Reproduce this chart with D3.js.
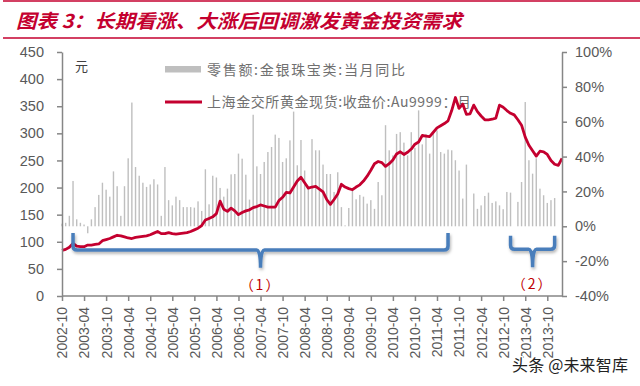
<!DOCTYPE html>
<html>
<head>
    <meta charset="utf-8">
    <title>长期看涨、大涨后回调激发黄金投资需求</title>
    <style type="text/css">
        body { margin: 0; background: #fff; }
        svg text { font-family: "Liberation Sans", Arial, sans-serif; fill: #595959; }
        svg .cjk { font-family: "Noto Sans CJK SC", sans-serif; }
        .axis path, .axis line { stroke: #868686; stroke-width: 1.5; }
    </style>
</head>
<body>
<script src="https://d3js.org/d3.v7.min.js"></script>
<script type="text/javascript">

    // monthly categories 2002-10 .. 2014-02
    var months = d3.timeMonth.range(new Date(2002, 9, 1), new Date(2014, 2, 1))
        .map(d3.timeFormat('%Y-%m'));

    // 上海金交所黄金现货 收盘价 Au9999 (元/克)
    var goldPrice = [
        84, 86, 90, 97, 92, 91, 91, 94, 94, 95,
        96, 102, 104, 106, 109, 112, 111, 109, 107, 106,
        108, 109, 110, 111, 113, 116, 119, 115, 115, 117,
        115, 114, 115, 116, 117, 119, 122, 125, 130, 140,
        143, 146, 152, 175, 160, 156, 162, 157, 150, 154,
        157, 159, 163, 165, 168, 166, 164, 164, 164, 176,
        182, 191, 190, 201, 212, 219, 209, 199, 201, 202,
        197, 192, 178, 169, 178, 188, 206, 201, 198, 196,
        201, 205, 212, 221, 232, 244, 248, 246, 239, 244,
        251, 262, 266, 261, 265, 271, 280, 284, 296, 295,
        294, 302, 310, 314, 318, 323, 342, 366, 346, 354,
        335, 336, 352, 340, 332, 325, 325, 326, 328, 352,
        348, 342, 337, 334, 325, 315, 293, 278, 268, 258,
        267, 266, 261, 250, 243, 241, 254
    ];

    // 零售额:金银珠宝类:当月同比 (%)
    var retailYoY = [
        1.5, 2, 6, 26, 4, 2, 1, -4, 4, 11,
        18, 25, 21, 17, 31.5, 23, 6, 23, 39, 71,
        34, 29, 25, 22.6, 24, 27, 24, 6, 34, 15,
        12, 17, 15, 11, 11, 11, 10.7, 14.3, 8.8, 32.7,
        12.6, 29, 28, 22, 17, 21.6, 29.8, 30, 41.7, 38.8,
        29.6, 15.3, 64, 34.4, 30, 36.9, 42.6, 45.5, 52.6, 50.7,
        36.9, 39, 49.3, 65.8, 35, 49.5, 32, 22.6, 50, 43.6,
        43.6, 35.4, 30, 30, 19.7, 31, 11, 0.5, 10.5, 22,
        15.5, 18, 17, 13, 15, 10, 25.4, 17.8, 58, 43.6,
        40.7, 53, 54, 48, 40.7, 54, 45, 66.5, 47, 53,
        41.7, 54, 55, 42.6, 41.7, 44, 43.6, 37.9, 32, 15.9,
        35.4, null, 18.8, 10, 12, 17.4, 19.3, 13.4, 14.3, 12,
        9.8, 19.7, 19.3, null, 14, 25.4, 71.3, 37.9, 30.2, 39,
        21.6, 17.8, 13.4, 15, 16.2, null, null
    ];

    var leftTicks = [0, 50, 100, 150, 200, 250, 300, 350, 400, 450];
    var rightTicks = [-40, -20, 0, 20, 40, 60, 80, 100];
    var xTicks = months.filter(function (d, i) { return i % 6 === 0 && d <= '2013-10'; });

    var legendNames = ['零售额:金银珠宝类:当月同比', '上海金交所黄金现货:收盘价:Au9999：月'];

    // annotation braces, in category / price units
    var braces = [
        { from: '2003-01', mid: '2007-04', to: '2011-07', top: 116, base: 85, tip: 52, label: '（1）' },
        { from: '2012-12', mid: '2013-06', to: '2013-12', top: 111, base: 86, tip: 53, label: '（2）' }
    ];

    var red = '#c4002f';

    var svg = d3.select('body').append('svg')
        .attr('width', 640)
        .attr('height', 386);

    var defs = svg.append('defs');
    var f = defs.append('filter').attr('id', 'shadow')
        .attr('x', '-10%').attr('y', '-50%').attr('width', '120%').attr('height', '200%');
    f.append('feDropShadow').attr('dx', 1).attr('dy', 2).attr('stdDeviation', 1.4)
        .attr('flood-color', '#000').attr('flood-opacity', 0.3);

    // header
    svg.append('line').attr('x1', 3).attr('x2', 640).attr('y1', 1).attr('y2', 1)
        .attr('stroke', red).attr('stroke-width', 1.5);
    svg.append('line').attr('x1', 3).attr('x2', 640).attr('y1', 38).attr('y2', 38)
        .attr('stroke', red).attr('stroke-width', 1.5);
    svg.append('text').attr('class', 'cjk')
        .attr('x', 16).attr('y', 28)
        .attr('textLength', 446).attr('lengthAdjust', 'spacingAndGlyphs')
        .style('font-size', '19px').style('font-weight', 'bold').style('font-style', 'italic')
        .style('fill', red)
        .text('图表 3：长期看涨、大涨后回调激发黄金投资需求');

    var x = d3.scalePoint().domain(months).range([62, 562]);
    var yL = d3.scaleLinear().domain([0, 450]).range([296, 52]);
    var yR = d3.scaleLinear().domain([-40, 100]).range([296, 52]);

    // bars
    var barData = months.map(function (m, i) { return { m: m, v: retailYoY[i] }; })
        .filter(function (d) { return d.v !== null; });
    svg.append('g').selectAll('rect')
        .data(barData)
        .enter().append('rect')
        .attr('x', function (d) { return x(d.m) - 0.7; })
        .attr('width', 1.4)
        .attr('y', function (d) { return Math.min(yR(d.v), yR(0)); })
        .attr('height', function (d) { return Math.abs(yR(d.v) - yR(0)); })
        .attr('fill', '#bfbfbf');

    // legend
    var lg = svg.append('g');
    lg.append('rect').attr('x', 165).attr('y', 66).attr('width', 36).attr('height', 6.5).attr('fill', '#bfbfbf');
    lg.append('line').attr('x1', 165).attr('x2', 202).attr('y1', 102).attr('y2', 102)
        .attr('stroke', red).attr('stroke-width', 3);
    lg.selectAll('text').data(legendNames).enter().append('text')
        .attr('class', 'cjk')
        .attr('x', 207)
        .attr('y', function (d, i) { return i ? 107 : 75; })
        .attr('textLength', function (d, i) { return i ? 264 : 198; })
        .attr('lengthAdjust', 'spacing')
        .style('font-size', '14px')
        .style('fill', '#707070')
        .text(function (d) { return d; });

    svg.append('text').attr('class', 'cjk').attr('x', 75).attr('y', 71)
        .style('font-size', '13px').style('fill', '#404040').text('元');

    // price line
    var line = d3.line()
        .x(function (d, i) { return x(months[i]); })
        .y(function (d) { return yL(d); });
    svg.append('path').datum(goldPrice)
        .attr('d', line)
        .attr('fill', 'none')
        .attr('stroke', red)
        .attr('stroke-width', 2.8)
        .attr('stroke-linejoin', 'round');

    // braces
    function bracePath(b) {
        var x0 = x(b.from), x1 = x(b.to), xm = x(b.mid);
        var yt = yL(b.top), yb = yL(b.base), yd = yL(b.tip), r = 4;
        return 'M' + x0 + ',' + yt + 'L' + x0 + ',' + (yb - r) +
            'Q' + x0 + ',' + yb + ' ' + (x0 + r) + ',' + yb +
            'L' + (xm - 4) + ',' + yb + 'Q' + xm + ',' + yb + ' ' + xm + ',' + yd +
            'Q' + xm + ',' + yb + ' ' + (xm + 4) + ',' + yb +
            'L' + (x1 - r) + ',' + yb + 'Q' + x1 + ',' + yb + ' ' + x1 + ',' + (yb - r) +
            'L' + x1 + ',' + yt;
    }
    var bg = svg.append('g');
    bg.selectAll('path').data(braces).enter().append('path')
        .attr('d', bracePath)
        .attr('fill', 'none')
        .attr('stroke', '#4a7ebb')
        .attr('stroke-width', 3.5)
        .attr('filter', 'url(#shadow)');
    bg.selectAll('text').data(braces).enter().append('text')
        .attr('class', 'cjk')
        .attr('x', function (d) { return x(d.mid); })
        .attr('y', function (d) { return yL(d.tip) + 22; })
        .attr('text-anchor', 'middle')
        .style('font-size', '14px')
        .style('letter-spacing', '2px')
        .style('fill', '#c00000')
        .text(function (d) { return d.label; });

    // axes
    svg.append('g').attr('class', 'axis')
        .attr('transform', 'translate(62,0)')
        .call(d3.axisLeft(yL).tickValues(leftTicks).tickSize(5).tickSizeOuter(0).tickPadding(13))
        .selectAll('text').style('font-size', '14.5px');

    svg.append('g').attr('class', 'axis')
        .attr('transform', 'translate(562,0)')
        .call(d3.axisRight(yR).tickValues(rightTicks).tickSize(5).tickSizeOuter(0).tickPadding(8)
            .tickFormat(function (d) { return d + '%'; }))
        .selectAll('text').style('font-size', '14.5px');

    var gx = svg.append('g').attr('class', 'axis')
        .attr('transform', 'translate(0,296)')
        .call(d3.axisBottom(x).tickValues(xTicks).tickSize(5).tickSizeOuter(0));
    gx.selectAll('text')
        .attr('transform', 'rotate(-90)')
        .attr('text-anchor', 'end')
        .attr('x', -11)
        .attr('y', 0)
        .attr('dy', '.35em')
        .style('font-size', '14px');
    gx.select('.domain').attr('d', 'M62,0H562');

    // watermark
    svg.append('text').attr('class', 'cjk')
        .attr('x', 512).attr('y', 371)
        .attr('textLength', 116)
        .style('font-size', '16px')
        .style('fill', '#222')
        .style('stroke', '#fff').style('stroke-width', 2.5).style('paint-order', 'stroke')
        .text('头条 @未来智库');
</script>
</body>
</html>
